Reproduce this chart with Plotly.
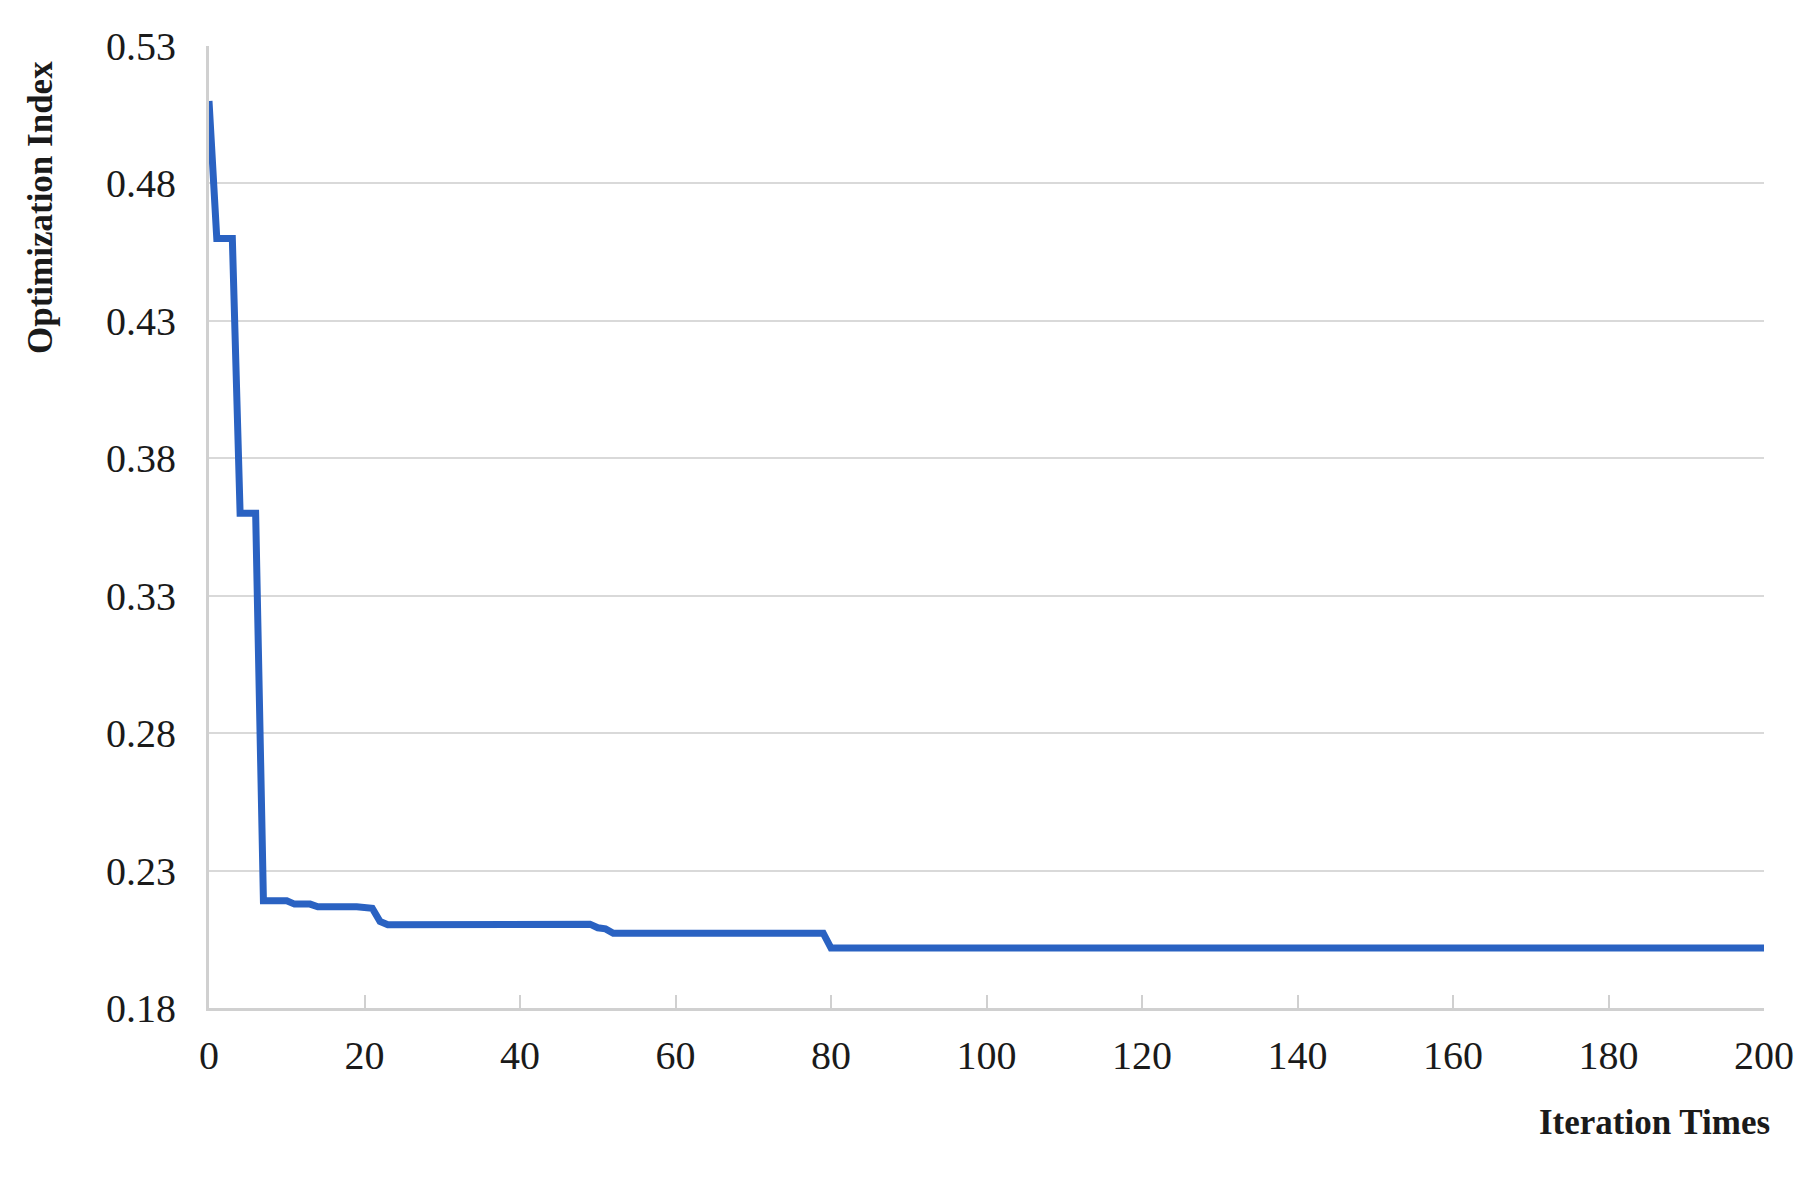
import plotly.graph_objects as go

# Data (iteration, optimization index) at visible change points
iterations = [0, 1, 3, 4, 6, 7, 10, 11, 13, 14, 19, 21, 22, 23, 49, 50, 51, 52, 79, 80, 200]
opt_index = [0.510, 0.460, 0.460, 0.360, 0.360, 0.219, 0.219, 0.2178, 0.2178, 0.2168, 0.2168,
             0.2163, 0.2115, 0.2103, 0.2105, 0.2092, 0.2088, 0.2072, 0.2072, 0.2018, 0.2018]

x_ticks = list(range(0, 201, 20))
y_ticks = [0.18, 0.23, 0.28, 0.33, 0.38, 0.43, 0.48, 0.53]

FONT = "Liberation Serif"

fig = go.Figure()
fig.add_trace(go.Scatter(
    x=iterations, y=opt_index, mode="lines",
    line=dict(color="#2a62c2", width=7),
    showlegend=False,
))

fig.update_layout(
    width=1803, height=1163,
    margin=dict(l=201, r=47, t=38, b=163),
    paper_bgcolor="white", plot_bgcolor="white",
    font=dict(family=FONT, size=40, color="#1a1a1a"),
    xaxis=dict(
        range=[0, 200], tickvals=x_ticks, ticktext=[str(v) for v in x_ticks],
        showgrid=False, zeroline=False,
        showline=True, linecolor="#d0d0d0", linewidth=3,
        ticks="inside", ticklen=13, tickwidth=2, tickcolor="#d0d0d0",
        tickfont=dict(family=FONT, size=40, color="#1a1a1a"),
        ticklabelstandoff=10,
    ),
    yaxis=dict(
        range=[0.18, 0.53], tickvals=y_ticks, ticktext=[f"{v:.2f}" for v in y_ticks],
        showgrid=True, gridcolor="#d9d9d9", gridwidth=2, zeroline=False,
        showline=True, linecolor="#d0d0d0", linewidth=3,
        ticks="",
        tickfont=dict(family=FONT, size=40, color="#1a1a1a"),
        ticklabelstandoff=22,
    ),
    annotations=[
        dict(text="<b>Iteration Times</b>", xref="paper", yref="paper",
             x=1.0051, y=-0.1195, xanchor="right", yanchor="middle",
             showarrow=False, font=dict(family=FONT, size=35, color="#1a1a1a")),
        dict(text="<b>Optimization Index</b>", xref="paper", yref="paper",
             x=-0.1087, y=0.8326, xanchor="center", yanchor="middle", textangle=-90,
             showarrow=False, font=dict(family=FONT, size=35, color="#1a1a1a")),
    ],
)

fig.write_html("out.html")
